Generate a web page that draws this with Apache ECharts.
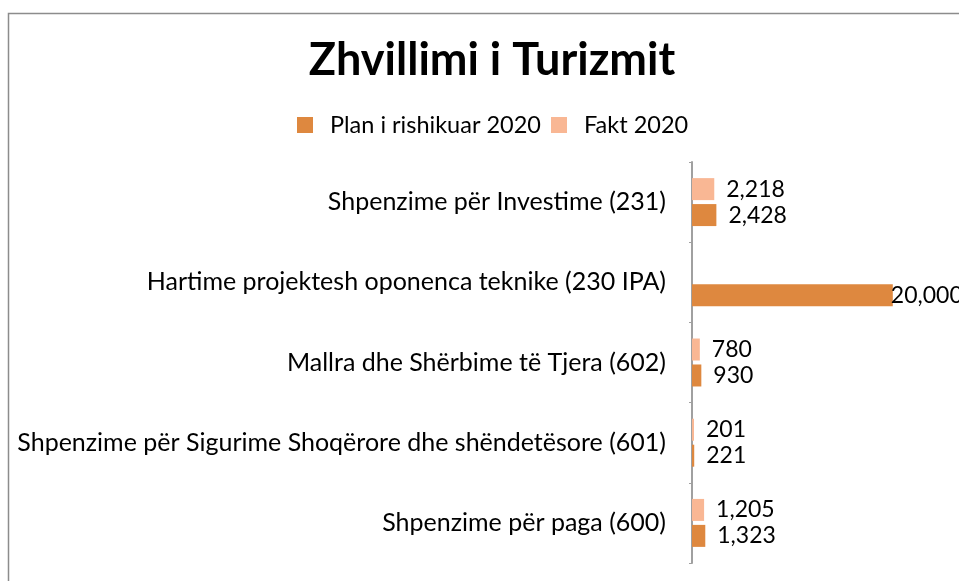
<!DOCTYPE html>
<html>
<head>
<meta charset="utf-8">
<script src="https://cdn.jsdelivr.net/npm/echarts@6/dist/echarts.min.js"></script>
<style>
  html, body { margin: 0; padding: 0; overflow: hidden; background: #fff; }
  #main { width: 990px; height: 600px; }
</style>
</head>
<body>
<div id="main"></div>
<script>
// kategorite, nga poshte lart
var categories = [
    'Shpenzime për paga (600)',
    'Shpenzime për Sigurime Shoqërore dhe shëndetësore (601)',
    'Mallra dhe Shërbime të Tjera (602)',
    'Hartime projektesh oponenca teknike (230 IPA)',
    'Shpenzime për Investime (231)'
];
var planValues = [1323, 221, 930, 20000, 2428];
var faktValues = [1205, 201, 780, null, 2218];

var planColor = '#DE883F';
var faktColor = '#F9B794';
var fontName = 'Lato';

var myChart = echarts.init(document.getElementById('main'));

var fmt = function (p) {
    if (p.value == null) return '';
    return Number(p.value).toLocaleString('en-US');
};

// etiketa e shiritit shume te gjate hyn pak brenda
var planData = planValues.map(function (v) {
    if (v > 15000) return { value: v, label: { distance: -2 } };
    return v;
});

var barLabel = {
    show: true,
    position: 'right',
    distance: 12,
    formatter: fmt,
    fontFamily: fontName,
    fontSize: 23,
    color: '#000',
    padding: [2, 0, 0, 0]
};

var option = {
    animation: false,
    textStyle: { fontFamily: fontName },
    graphic: [{
        type: 'rect',
        shape: { x: 8.5, y: 13.5, width: 968, height: 620 },
        style: { fill: 'none', stroke: '#8c8c8c', lineWidth: 1.5 },
        silent: true
    }],
    title: {
        text: 'Zhvillimi i Turizmit',
        left: 492,
        textAlign: 'center',
        top: 38,
        padding: 0,
        textStyle: { fontFamily: fontName, fontSize: 45, fontWeight: 'bold', color: '#000' }
    },
    legend: {
        left: 297,
        top: 113,
        padding: 0,
        itemWidth: 16,
        itemHeight: 16,
        itemGap: 10,
        icon: 'rect',
        textStyle: { fontFamily: fontName, fontSize: 23.5, color: '#000', padding: [0, 0, 0, 12] },
        data: ['Plan i rishikuar 2020', 'Fakt 2020']
    },
    grid: {
        left: 692,
        top: 162,
        width: 251,
        height: 401,
        containLabel: false
    },
    xAxis: {
        type: 'value',
        min: 0,
        max: 25000,
        show: false
    },
    yAxis: {
        type: 'category',
        data: categories,
        axisLine: { show: true, lineStyle: { color: '#a0a0a0', width: 2 } },
        axisTick: { show: true, length: 3, lineStyle: { color: '#a0a0a0' } },
        axisLabel: { margin: 26, fontFamily: fontName, fontSize: 25, color: '#000', padding: [5, 0, 0, 0] }
    },
    series: [
        {
            name: 'Fakt 2020',
            type: 'bar',
            data: faktValues,
            barWidth: 22,
            barGap: '18%',
            itemStyle: { color: faktColor },
            label: barLabel
        },
        {
            name: 'Plan i rishikuar 2020',
            type: 'bar',
            data: planData,
            barWidth: 22,
            barGap: '18%',
            itemStyle: { color: planColor },
            label: barLabel
        }
    ]
};
myChart.setOption(option);
</script>
</body>
</html>
